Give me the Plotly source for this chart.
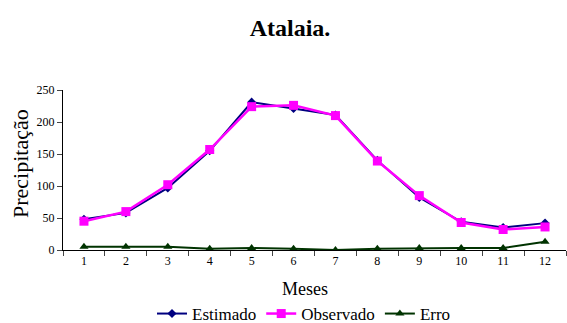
import plotly.graph_objects as go

meses = [str(i) for i in range(1, 13)]
estimado = [48, 58, 97, 155, 231, 221, 211, 140, 82, 44, 35, 42]
observado = [45, 60, 102, 157, 224, 226, 210, 139, 85, 43, 32, 36]
erro = [5, 5, 5, 2, 3, 2, 0, 2, 3, 3, 3, 13]

SERIF = "Liberation Serif"

fig = go.Figure()
fig.add_trace(go.Scatter(x=meses, y=estimado, name="Estimado", mode="lines+markers",
                         line=dict(color="#000080", width=2),
                         marker=dict(symbol="diamond", size=7, color="#000080")))
fig.add_trace(go.Scatter(x=meses, y=observado, name="Observado", mode="lines+markers",
                         line=dict(color="#FF00FF", width=2.5),
                         marker=dict(symbol="square", size=9, color="#FF00FF")))
fig.add_trace(go.Scatter(x=meses, y=erro, name="Erro", mode="lines+markers",
                         line=dict(color="#003300", width=2),
                         marker=dict(symbol="triangle-up", size=8, color="#003300")))

fig.update_layout(
    width=567, height=323,
    margin=dict(l=63, r=1, t=90, b=73, autoexpand=False),
    paper_bgcolor="white", plot_bgcolor="white",
    font=dict(family=SERIF, color="black"),
    title=dict(text="<b>Atalaia.</b>", x=290 / 567, xanchor="center", y=1 - 28 / 323, yanchor="middle",
               font=dict(size=24, family=SERIF)),
    showlegend=True,
    legend=dict(orientation="h", x=(304 - 63) / 503, xanchor="center", y=-0.4, yanchor="middle",
                font=dict(size=17, family=SERIF), tracegroupgap=0),
    annotations=[
        dict(text="Meses", xref="paper", yref="paper", x=(305 - 63) / 503, y=-0.245,
             xanchor="center", yanchor="middle", showarrow=False,
             font=dict(size=18, family=SERIF)),
        dict(text="Precipitação", xref="paper", yref="paper", x=(20 - 63) / 503, y=(250 - 164) / 160,
             xanchor="center", yanchor="middle", showarrow=False, textangle=-90,
             font=dict(size=22, family=SERIF)),
    ],
    xaxis=dict(type="category", tickson="boundaries", ticks="outside", ticklen=5,
               range=[-0.5, 11.5],
               showline=True, linecolor="black", linewidth=1, showgrid=False, automargin=False,
               tickfont=dict(size=12, family=SERIF)),
    yaxis=dict(range=[0, 250], tickvals=[0, 50, 100, 150, 200, 250], ticks="outside", ticklen=5,
               showline=True, linecolor="black", linewidth=1, showgrid=False, zeroline=False,
               automargin=False,
               tickfont=dict(size=12, family=SERIF)),
)

fig.write_html("out.html", config={"displayModeBar": False},
               post_script="document.body.style.margin='0';document.body.style.overflow='hidden';")
